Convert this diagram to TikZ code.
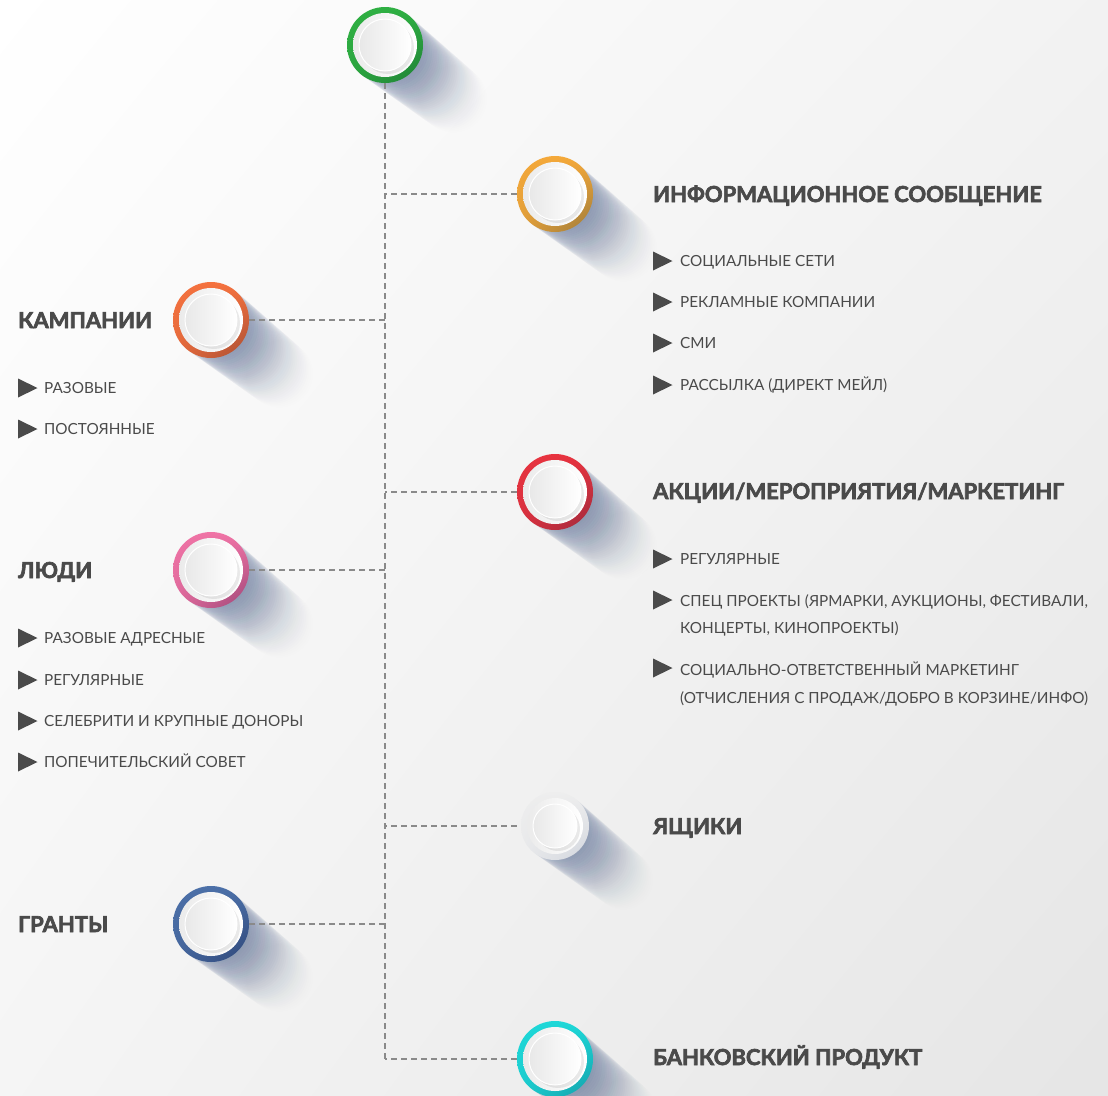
\documentclass[tikz,border=0pt]{standalone}
\usepackage{fontspec}
\setmainfont{Lato}[BoldFeatures={FakeBold=3}]
\usetikzlibrary{calc,shadings}
\definecolor{txt}{HTML}{4A4A4A}
\definecolor{shadowc}{HTML}{5B6F98}
\definecolor{dashc}{HTML}{8A8A8A}
\definecolor{gA}{HTML}{2FB043}\definecolor{gB}{HTML}{1F7F35}
\definecolor{oA}{HTML}{F5A93A}\definecolor{oB}{HTML}{9C7A3A}
\definecolor{kA}{HTML}{F5723F}\definecolor{kB}{HTML}{A84E33}
\definecolor{rA}{HTML}{E8333F}\definecolor{rB}{HTML}{9E2A3E}
\definecolor{pA}{HTML}{F074A6}\definecolor{pB}{HTML}{9E4677}
\definecolor{yA}{HTML}{EEEEEE}\definecolor{yB}{HTML}{D2D6DE}
\definecolor{bA}{HTML}{4C70A8}\definecolor{bB}{HTML}{2E4678}
\definecolor{cA}{HTML}{1ED8D8}\definecolor{cB}{HTML}{14A0AA}
\newcommand\bubble[6]{% name, x, y, colA, colB, radius
  \foreach \i in {1,...,36}{\fill[shadowc,opacity={0.05*(1-\i/38)}] ({#2+\i*1.9},{#3+\i*1.5}) circle ({#6pt-\i*0.12pt});}
  \shade[upper left=#4,upper right=#4,lower left=#4!80!#5,lower right=#5] (#2,#3) circle (#6pt);
  \shade[left color=black!8,right color=white] (#2,#3) circle ({#6pt-6pt});
  \fill[black,opacity=0.08] ({#2+3},{#3+3}) circle ({#6pt-12pt});
  \shade[left color=black!9,right color=white] (#2,#3) circle ({#6pt-12pt});
  \draw[white,line width=1pt] (#2,#3) circle ({#6pt-12pt});
  \node[circle,minimum size={2*#6pt},inner sep=0pt] (#1) at (#2,#3) {};
}
\tikzset{
  dashline/.style={dashc,line width=2pt,dash pattern=on 6pt off 4pt},
  head/.style={anchor=base west,inner sep=0pt,text=txt,font=\fontsize{22}{27}\selectfont\bfseries},
  item/.style={anchor=base west,inner sep=0pt,text=txt,align=left,font=\fontsize{15.3}{27.5}\selectfont},
  bullet/.style={fill=txt}
}
\newcommand\tri[2]{\fill[bullet] (#1,{#2-9.5}) -- ({#1+19.5},#2) -- (#1,{#2+9.5}) -- cycle;}
\begin{document}
\begin{tikzpicture}[x=1pt,y=-1pt]
\useasboundingbox (0,0) rectangle (1108,1095);
\clip (0,0) rectangle (1108,1095);
\shade[upper left=white,upper right=black!5,lower left=black!4,lower right=black!10] (0,0) rectangle (1108,1095);
% circles
\bubble{c0}{385}{45}{gA}{gB}{38}
\bubble{c1}{555}{194}{oA}{oB}{38}
\bubble{c2}{211}{320}{kA}{kB}{38}
\bubble{c3}{555}{492}{rA}{rB}{38}
\bubble{c4}{211}{570}{pA}{pB}{38}
\bubble{c5}{555}{826}{yA}{yB}{34}
\bubble{c6}{211}{924}{bA}{bB}{38}
\bubble{c7}{555}{1059}{cA}{cB}{38}
% connectors
\coordinate (vend) at (c0.south |- c7.west);
\draw[dashline] (c0.south) -- (vend);
\draw[dashline] (c1.west) -- (c1.west -| c0.south);
\draw[dashline] (c2.east) -- (c2.east -| c0.south);
\draw[dashline] (c3.west) -- (c3.west -| c0.south);
\draw[dashline] (c4.east) -- (c4.east -| c0.south);
\draw[dashline] ([xshift=-4pt]c5.west) -- (c5.west -| c0.south);
\draw[dashline] (c6.east) -- (c6.east -| c0.south);
\draw[dashline] (c7.west) -- (vend);
% right texts
\node[head] (h1) at (653,202) {ИНФОРМАЦИОННОЕ СООБЩЕНИЕ};
\tri{653}{261}\node[item] (i11) at (680,266.5) {СОЦИАЛЬНЫЕ СЕТИ};
\tri{653}{302}\node[item] (i12) at (680,307.5) {РЕКЛАМНЫЕ КОМПАНИИ};
\tri{653}{343}\node[item] (i13) at (680,348.5) {СМИ};
\tri{653}{385}\node[item] (i14) at (680,390.5) {РАССЫЛКА (ДИРЕКТ МЕЙЛ)};
\node[head] (h3) at (653,499) {АКЦИИ/МЕРОПРИЯТИЯ/МАРКЕТИНГ};
\tri{653}{559}\node[item] (i31) at (680,564.5) {РЕГУЛЯРНЫЕ};
\tri{653}{600}\node[item,anchor=north west] (i32) at (680,594) {СПЕЦ ПРОЕКТЫ (ЯРМАРКИ, АУКЦИОНЫ, ФЕСТИВАЛИ,\\КОНЦЕРТЫ, КИНОПРОЕКТЫ)};
\tri{653}{668}\node[item,anchor=north west] (i33) at (680,662) {СОЦИАЛЬНО-ОТВЕТСТВЕННЫЙ МАРКЕТИНГ\\(ОТЧИСЛЕНИЯ С ПРОДАЖ/ДОБРО В КОРЗИНЕ/ИНФО)};
\node[head] (h5) at (653,834) {ЯЩИКИ};
\node[head] (h7) at (653,1065) {БАНКОВСКИЙ ПРОДУКТ};
% left texts
\node[head] (h2) at (18,328) {КАМПАНИИ};
\tri{18}{388}\node[item] (i21) at (44,393.5) {РАЗОВЫЕ};
\tri{18}{429}\node[item] (i22) at (44,434.5) {ПОСТОЯННЫЕ};
\node[head] (h4) at (18,578) {ЛЮДИ};
\tri{18}{638}\node[item] (i41) at (44,643.5) {РАЗОВЫЕ АДРЕСНЫЕ};
\tri{18}{680}\node[item] (i42) at (44,685.5) {РЕГУЛЯРНЫЕ};
\tri{18}{721}\node[item] (i43) at (44,726.5) {СЕЛЕБРИТИ И КРУПНЫЕ ДОНОРЫ};
\tri{18}{762}\node[item] (i44) at (44,767.5) {ПОПЕЧИТЕЛЬСКИЙ СОВЕТ};
\node[head] (h6) at (18,932) {ГРАНТЫ};
\end{tikzpicture}
\end{document}
